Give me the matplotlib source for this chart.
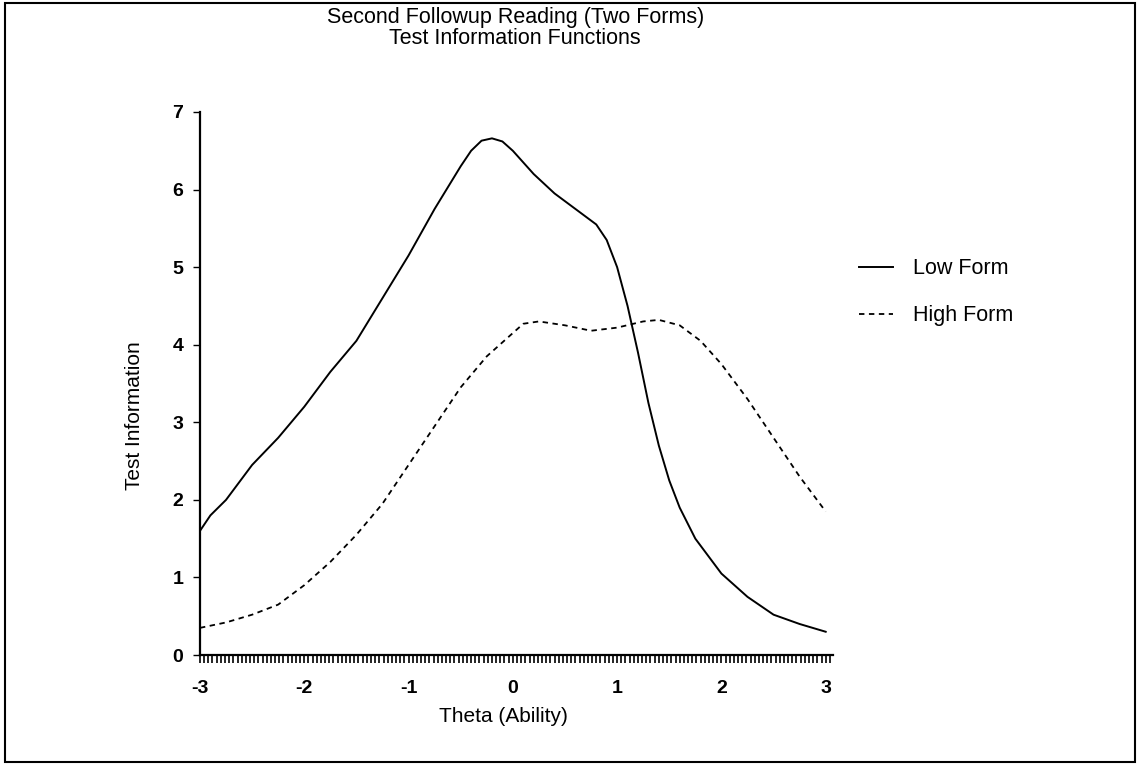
"""Test information functions for the two reading forms."""

import numpy as np
import matplotlib
matplotlib.use('Agg')
import matplotlib.pyplot as plt
from matplotlib.patches import Rectangle
from matplotlib.ticker import MultipleLocator

plt.rcParams['font.family'] = ['Liberation Sans', 'DejaVu Sans']
plt.rcParams['axes.unicode_minus'] = False

# values
theta_low = [-3.0, -2.9, -2.75, -2.5, -2.25, -2.0, -1.75, -1.5, -1.25, -1.0,
             -0.75, -0.5, -0.4, -0.3, -0.2, -0.1, 0.0, 0.2, 0.4, 0.6, 0.8,
             0.9, 1.0, 1.1, 1.2, 1.3, 1.4, 1.5, 1.6, 1.75, 2.0, 2.25, 2.5,
             2.75, 3.0]
info_low = [1.6, 1.8, 2.0, 2.45, 2.8, 3.2, 3.65, 4.05, 4.6, 5.15,
            5.75, 6.3, 6.5, 6.63, 6.66, 6.62, 6.5, 6.2, 5.95, 5.75, 5.55,
            5.35, 5.0, 4.5, 3.9, 3.25, 2.7, 2.25, 1.9, 1.5, 1.05, 0.75, 0.52,
            0.4, 0.3]

theta_high = [-3.0, -2.75, -2.5, -2.25, -2.0, -1.75, -1.5, -1.25, -1.0, -0.75,
              -0.5, -0.25, 0.0, 0.1, 0.25, 0.5, 0.75, 1.0, 1.25, 1.4, 1.6,
              1.8, 2.0, 2.25, 2.5, 2.75, 3.0]
info_high = [0.35, 0.42, 0.52, 0.65, 0.9, 1.2, 1.55, 1.95, 2.45, 2.95,
             3.45, 3.85, 4.15, 4.27, 4.3, 4.25, 4.18, 4.22, 4.3, 4.32, 4.25,
             4.05, 3.75, 3.3, 2.8, 2.3, 1.85]

x_ticks = [-3, -2, -1, 0, 1, 2, 3]
y_ticks = [0, 1, 2, 3, 4, 5, 6, 7]

fig = plt.figure(figsize=(11.4, 7.68), dpi=100)
ax = fig.add_axes([0.1754, 0.1471, 0.5553, 0.7071])

ax.plot(theta_low, info_low, color='black', lw=1.4, label='Low Form')
ax.plot(theta_high, info_high, color='black', lw=1.3, dashes=(3, 2.5),
        label='High Form')

ax.set_xlim(-3, 3.07)
ax.set_ylim(0, 7)
ax.set_xticks(x_ticks)
ax.set_yticks(y_ticks)
ax.xaxis.set_minor_locator(MultipleLocator(0.04))
ax.tick_params(axis='x', which='both', direction='out', length=6, width=1.2,
               pad=12, labelsize=14)
ax.tick_params(axis='y', direction='out', length=5, width=1, pad=7,
               labelsize=14)
for lab in ax.get_xticklabels() + ax.get_yticklabels():
    lab.set_fontweight('bold')

for side in ['top', 'right']:
    ax.spines[side].set_visible(False)
for side in ['left', 'bottom']:
    ax.spines[side].set_linewidth(1.6)

ax.set_xlabel('Theta (Ability)', fontsize=15)
ax.set_ylabel('Test Information', fontsize=15)
ax.xaxis.set_label_coords(0.48, -0.095)
ax.yaxis.set_label_coords(-0.088, 0.44)

fig.text(0.452, 0.977, 'Second Followup Reading (Two Forms)', ha='center',
         va='center', fontsize=15.5)
fig.text(0.452, 0.950, 'Test Information Functions', ha='center',
         va='center', fontsize=15.5)

ax.legend(loc='center left', bbox_to_anchor=(1.01, 0.668), frameon=False,
          fontsize=15.5, handlelength=1.6, handletextpad=0.9, labelspacing=1.2)

fig.patches.append(Rectangle((0.0044, 0.0078), 0.991, 0.988, fill=False,
                             lw=1.5, edgecolor='black',
                             transform=fig.transFigure, figure=fig))

fig.savefig('out.png', dpi=100)
